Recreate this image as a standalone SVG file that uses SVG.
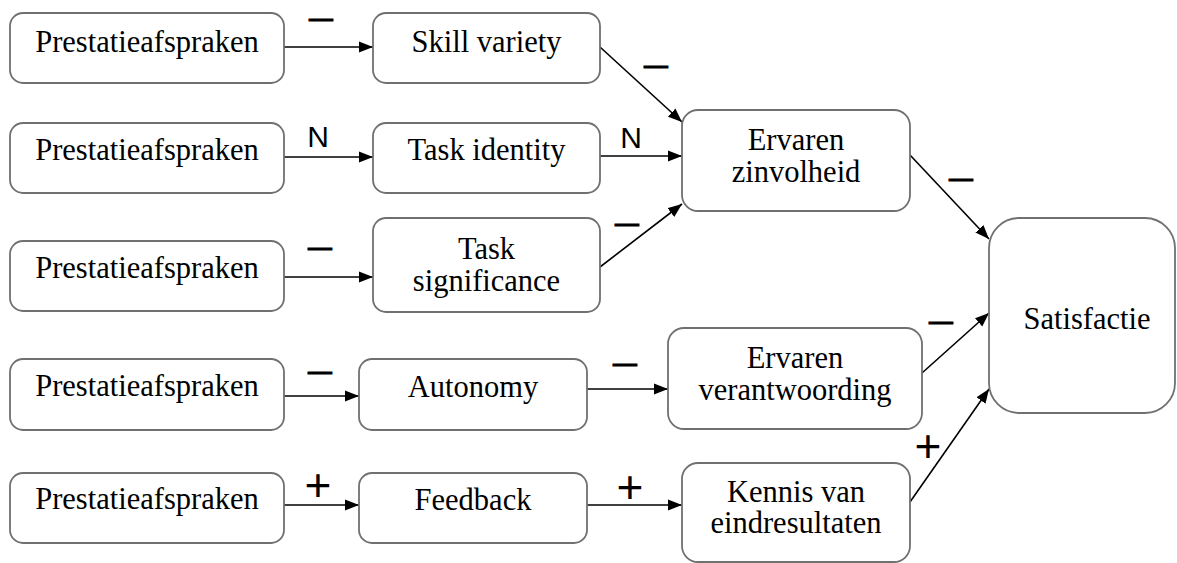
<svg xmlns="http://www.w3.org/2000/svg" width="1177" height="563" viewBox="0 0 1177 563">
  <defs>
    <style>
      .box { fill: #ffffff; stroke: #707070; stroke-width: 1.8; }
      .t { font-family: "Liberation Serif", "Times New Roman", serif; font-size: 30.5px; fill: #000; text-anchor: middle; }
      .lbl { font-family: "Liberation Sans", Arial, sans-serif; fill: #000; text-anchor: middle; }
      .dash { font-size: 30px; stroke: #000; stroke-width: 0.8; }
      .plus { font-size: 46px; }
      .n { font-size: 30px; }
      .edge { stroke: #000; stroke-width: 1.6; fill: none; marker-end: url(#arrow); }
    </style>
    <marker id="arrow" markerUnits="userSpaceOnUse" markerWidth="15" markerHeight="12" refX="14" refY="6" orient="auto">
      <path d="M0,0.5 L14,6 L0,11.5 z" fill="#000"/>
    </marker>
  </defs>

  <rect width="1177" height="563" fill="#ffffff"/>

  <!-- connectors -->
  <g id="connectors">
    <line class="edge" x1="284" y1="47" x2="373" y2="47"/>
    <line class="edge" x1="284" y1="157" x2="373" y2="157"/>
    <line class="edge" x1="284" y1="277" x2="373" y2="277"/>
    <line class="edge" x1="284" y1="396" x2="359" y2="396"/>
    <line class="edge" x1="284" y1="505" x2="359" y2="505"/>
    <line class="edge" x1="600" y1="47" x2="682" y2="122"/>
    <line class="edge" x1="600" y1="156" x2="682" y2="156"/>
    <line class="edge" x1="600" y1="267" x2="682" y2="204"/>
    <line class="edge" x1="587" y1="389" x2="668" y2="389"/>
    <line class="edge" x1="587" y1="505" x2="682" y2="505"/>
    <line class="edge" x1="910" y1="155" x2="989" y2="239"/>
    <line class="edge" x1="922" y1="373" x2="989" y2="313"/>
    <line class="edge" x1="910" y1="502" x2="989" y2="389"/>

    <!-- edge signs (dashes widened horizontally) -->
    <text class="lbl dash" transform="translate(321,28) scale(1.43,1)">–</text>
    <text class="lbl n" x="318" y="147">N</text>
    <text class="lbl dash" transform="translate(320,257) scale(1.43,1)">–</text>
    <text class="lbl dash" transform="translate(320,381) scale(1.43,1)">–</text>
    <text class="lbl plus" x="318" y="501">+</text>
    <text class="lbl dash" transform="translate(656,75) scale(1.43,1)">–</text>
    <text class="lbl n" x="631" y="148">N</text>
    <text class="lbl dash" transform="translate(627,233) scale(1.43,1)">–</text>
    <text class="lbl dash" transform="translate(625,373) scale(1.43,1)">–</text>
    <text class="lbl plus" x="630" y="503">+</text>
    <text class="lbl dash" transform="translate(961,188) scale(1.43,1)">–</text>
    <text class="lbl dash" transform="translate(941,331) scale(1.43,1)">–</text>
    <text class="lbl plus" x="928" y="462">+</text>
  </g>

  <!-- source nodes -->
  <g id="prestatie1">
    <rect class="box" x="10" y="13" width="274" height="70" rx="13"/>
    <text class="t" x="147" y="52">Prestatieafspraken</text>
  </g>
  <g id="prestatie2">
    <rect class="box" x="10" y="123" width="274" height="70" rx="13"/>
    <text class="t" x="147" y="160">Prestatieafspraken</text>
  </g>
  <g id="prestatie3">
    <rect class="box" x="10" y="241" width="274" height="70" rx="13"/>
    <text class="t" x="147" y="278">Prestatieafspraken</text>
  </g>
  <g id="prestatie4">
    <rect class="box" x="10" y="359" width="274" height="71" rx="13"/>
    <text class="t" x="147" y="396">Prestatieafspraken</text>
  </g>
  <g id="prestatie5">
    <rect class="box" x="10" y="473" width="274" height="70" rx="13"/>
    <text class="t" x="147" y="509">Prestatieafspraken</text>
  </g>

  <!-- job characteristics -->
  <g id="skill-variety">
    <rect class="box" x="373" y="13" width="227" height="70" rx="13"/>
    <text class="t" x="486.5" y="52">Skill variety</text>
  </g>
  <g id="task-identity">
    <rect class="box" x="373" y="123" width="227" height="70" rx="13"/>
    <text class="t" x="486.5" y="160">Task identity</text>
  </g>
  <g id="task-significance">
    <rect class="box" x="373" y="218" width="227" height="94" rx="13"/>
    <text class="t" x="486.5" y="259">Task</text>
    <text class="t" x="486.5" y="291">significance</text>
  </g>
  <g id="autonomy">
    <rect class="box" x="359" y="359" width="228" height="71" rx="13"/>
    <text class="t" x="473" y="397">Autonomy</text>
  </g>
  <g id="feedback">
    <rect class="box" x="359" y="473" width="228" height="70" rx="13"/>
    <text class="t" x="473" y="510">Feedback</text>
  </g>

  <!-- psychological states -->
  <g id="ervaren-zinvolheid">
    <rect class="box" x="682" y="110" width="228" height="101" rx="16"/>
    <text class="t" x="796" y="150">Ervaren</text>
    <text class="t" x="796" y="182">zinvolheid</text>
  </g>
  <g id="ervaren-verantwoording">
    <rect class="box" x="668" y="328" width="254" height="101" rx="16"/>
    <text class="t" x="795" y="368">Ervaren</text>
    <text class="t" x="795" y="400">verantwoording</text>
  </g>
  <g id="kennis-eindresultaten">
    <rect class="box" x="682" y="463" width="228" height="99" rx="16"/>
    <text class="t" x="796" y="502">Kennis van</text>
    <text class="t" x="796" y="533">eindresultaten</text>
  </g>

  <!-- outcome -->
  <g id="satisfactie">
    <rect class="box" x="989" y="218" width="186" height="195" rx="30"/>
    <text class="t" x="1087" y="329">Satisfactie</text>
  </g>
</svg>
